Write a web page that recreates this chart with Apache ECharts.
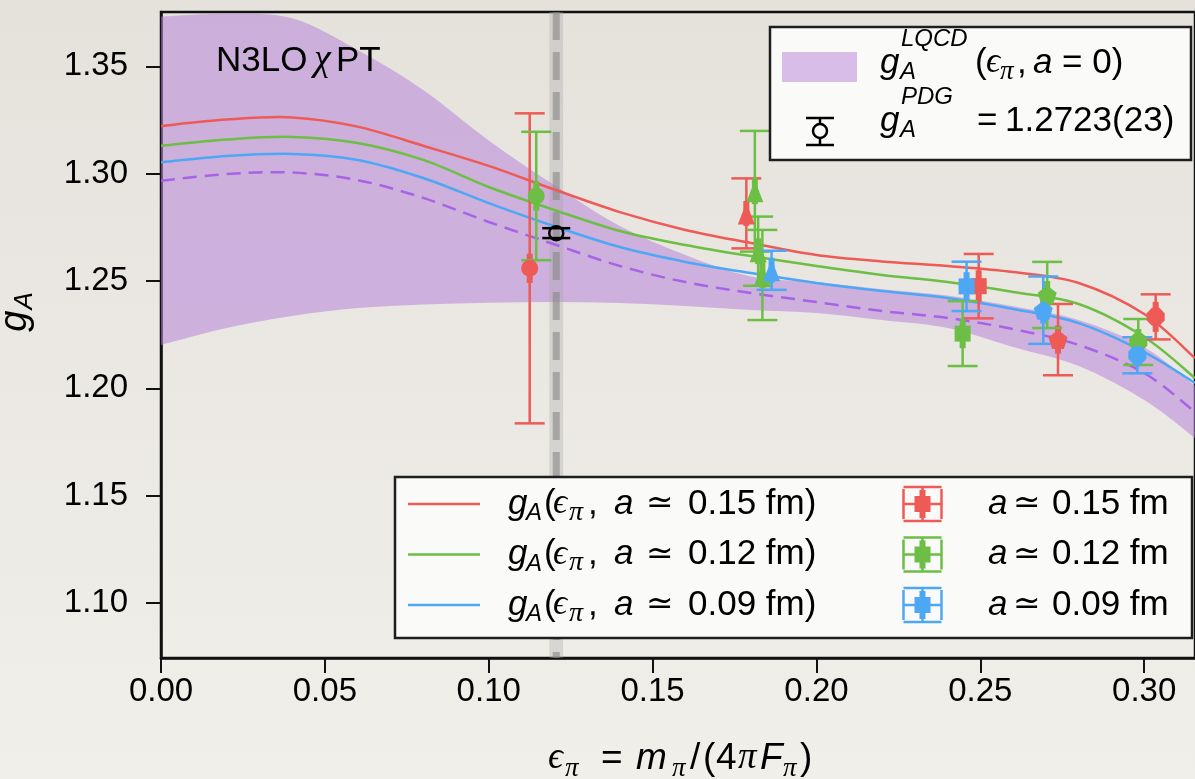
<!DOCTYPE html>
<html><head><meta charset="utf-8">
<script src="https://cdn.jsdelivr.net/npm/echarts@6/dist/echarts.min.js"></script>
<style>html,body{margin:0;padding:0;width:1195px;height:779px;overflow:hidden;background:#ebe8e3}#c{width:1195px;height:779px}</style>
</head><body><div id="c"></div>
<script>
// ---- fit curves ----
const xGrid   = [0,0.02,0.04,0.06,0.08,0.10,0.12,0.14,0.16,0.18,0.20,0.22,0.24,0.26,0.28,0.30,0.3155];
const fit015  = [1.3222,1.3252,1.3262,1.3219,1.3130,1.3036,1.2926,1.2821,1.2738,1.2677,1.2621,1.2591,1.2570,1.2542,1.2491,1.2346,1.2141];
const fit012  = [1.3130,1.3159,1.3171,1.3143,1.3064,1.2938,1.2831,1.2733,1.2668,1.2616,1.2570,1.2528,1.2495,1.2449,1.2393,1.2239,1.2048];
const fit009  = [1.3053,1.3082,1.3092,1.3064,1.2980,1.2863,1.2755,1.2658,1.2589,1.2537,1.2491,1.2453,1.2421,1.2370,1.2304,1.2169,1.2025];
const fitCont = [1.2967,1.2998,1.3005,1.2970,1.2887,1.2775,1.2671,1.2570,1.2495,1.2444,1.2402,1.2360,1.2328,1.2276,1.2202,1.2071,1.1890];
const bandUpper = [1.3732,1.3745,1.3724,1.3576,1.3390,1.3155,1.2947,1.2756,1.2621,1.2521,1.2495,1.2462,1.2432,1.2382,1.2318,1.2192,1.2012];
const bandLower = [1.2202,1.2281,1.2337,1.2374,1.2391,1.2399,1.2402,1.2398,1.2384,1.2365,1.2351,1.2318,1.2281,1.2193,1.2104,1.1946,1.1769];

// ---- lattice data points ----
const eps015   = [0.1125,0.1786,0.2495,0.2737,0.3035];
const gA015    = [1.2559,1.2815,1.2476,1.2227,1.2333];
const err015   = [0.0722,0.0163,0.0150,0.0166,0.0105];
const stat015  = [0.0068,0.0058,0.0074,0.0065,0.0070];
const shape015 = ['circle','triangle','square','pentagon','octagon'];

const eps012   = [0.1145,0.1812,0.1822,0.1835,0.2446,0.2704,0.2982];
const gA012    = [1.2896,1.2918,1.2639,1.2528,1.2255,1.2435,1.2216];
const err012   = [0.0299,0.0281,0.0161,0.0210,0.0151,0.0154,0.0107];
const stat012  = [0.0068,0.0060,0.0060,0.0060,0.0068,0.0065,0.0060];
const shape012 = ['circle','triangle','triangle','triangle','square','pentagon','octagon'];

const eps009   = [0.1863,0.2458,0.2692,0.2979];
const gA009    = [1.2550,1.2475,1.2364,1.2154];
const err009   = [0.0091,0.0115,0.0157,0.0084];
const stat009  = [0.0058,0.0066,0.0062,0.0052];
const shape009 = ['triangle','square','pentagon','octagon'];

// ---- PDG / physical point ----
const pdgEps = [0.1206];
const pdgGA  = [1.2723];
const pdgErr = [0.0023];
const physEps = 0.1206, physHalf = 0.0021;

const yTicks = [1.10,1.15,1.20,1.25,1.30,1.35];

const RED='#ee5a55', GREEN='#6cbe45', BLUE='#4ea7f5', PURPLE='#a862e6';
const SANS='"Liberation Sans", Arial, Helvetica, sans-serif';
const SERIF='"Liberation Serif", "DejaVu Serif", serif';

const SYM = {circle:'circle', triangle:'triangle', square:'rect',
  pentagon:'path://M0,-10L9.51,-3.09L5.88,8.09L-5.88,8.09L-9.51,-3.09Z',
  octagon:'path://M-4.14,-10L4.14,-10L10,-4.14L10,4.14L4.14,10L-4.14,10L-10,4.14L-10,-4.14Z'};
const SIZE = {circle:17, triangle:[17,22], square:16, pentagon:19, octagon:18};

function zip(a,b){return a.map((v,i)=>[v,b[i]]);}

// Catmull-Rom path through screen points
function crPath(pts, cmd){
  let d=cmd+pts[0][0].toFixed(2)+','+pts[0][1].toFixed(2);
  for(let i=0;i<pts.length-1;i++){
    const p0=pts[i-1]||pts[i], p1=pts[i], p2=pts[i+1], p3=pts[i+2]||pts[i+1];
    const c1=[p1[0]+(p2[0]-p0[0])/6, p1[1]+(p2[1]-p0[1])/6];
    const c2=[p2[0]-(p3[0]-p1[0])/6, p2[1]-(p3[1]-p1[1])/6];
    d+=' C'+c1[0].toFixed(2)+','+c1[1].toFixed(2)+' '+c2[0].toFixed(2)+','+c2[1].toFixed(2)+' '+p2[0].toFixed(2)+','+p2[1].toFixed(2);
  }
  return d;
}
function curveSeries(xs, ys, style, z){
  return {type:'custom', data:zip(xs,ys), z:z, clip:true, silent:true,
    encode:{x:0,y:1},
    renderItem:function(params, api){
      if(params.dataIndexInside!==0) return null;
      const n=params.dataInsideLength, pts=[];
      for(let i=0;i<n;i++) pts.push(api.coord([api.value(0,i), api.value(1,i)]));
      return {type:'path', shape:{pathData:crPath(pts,'M')}, style:Object.assign({fill:null},style)};
    }};
}

function errData(e,g,er,st){return e.map((v,i)=>[v,g[i],er[i],st[i]]);}
function renderErr(params, api){
  const x=api.value(0), y=api.value(1), e=api.value(2), s=api.value(3);
  const t=api.coord([x,y+e]), b=api.coord([x,y-e]);
  const st=api.coord([x,y+s]), sb=api.coord([x,y-s]);
  const c=api.visual('color'); const cw=15;
  const ls={stroke:c,lineWidth:2.5};
  return {type:'group',children:[
    {type:'line',shape:{x1:t[0],y1:t[1],x2:b[0],y2:b[1]},style:ls},
    {type:'line',shape:{x1:t[0]-cw,y1:t[1],x2:t[0]+cw,y2:t[1]},style:ls},
    {type:'line',shape:{x1:b[0]-cw,y1:b[1],x2:b[0]+cw,y2:b[1]},style:ls},
    {type:'line',shape:{x1:st[0],y1:st[1],x2:sb[0],y2:sb[1]},style:{stroke:c,lineWidth:6}}
  ]};
}
function markData(e,g,sh){return e.map((v,i)=>({value:[v,g[i]],symbol:SYM[sh[i]],symbolSize:SIZE[sh[i]]}));}

// ---- math text helper ----
const meas=document.createElement('canvas').getContext('2d');
function fam(f){return (f==='si'||f==='sr')?SERIF:(f==='d'?'"DejaVu Sans", sans-serif':SANS);}
function sty(f){return (f==='i'||f==='si')?'italic':'normal';}
function mathLine(x, base, pieces){
  const els=[]; let cx=x;
  for(const p of pieces){
    const s=p.s||35, f=p.f||'r';
    meas.font=sty(f)+' '+s+'px '+fam(f);
    const w=meas.measureText(p.t).width;
    const px = (p.at!==undefined) ? p.at : cx+(p.gap||0);
    els.push({type:'text',x:px,y:base+(p.dy||0)-0.31*s,z:300,zlevel:1,
      style:{text:p.t,fontSize:s,fontFamily:fam(f),fontStyle:sty(f),fill:'#000',verticalAlign:'middle',align:'left'}});
    cx = Math.max(cx, px+w);
  }
  return {els,end:cx};
}

const graphics=[];
const ZL={zlevel:1};
function add(el){graphics.push(Object.assign({},el,ZL));}
// top legend box
add({type:'rect',shape:{x:770,y:27,width:421,height:133},style:{fill:'#fafaf9',stroke:'#1e1e1e',lineWidth:2.5},z:250});
add({type:'rect',shape:{x:782,y:52,width:75,height:30},style:{fill:'rgba(181,127,217,0.5)'},z:260});
graphics.push(...mathLine(880,74,[
  {t:'g',f:'i',at:880},{t:'A',f:'i',s:24,dy:6,at:900},{t:'LQCD',f:'i',s:24,dy:-27,at:901},
  {t:'(',at:975},{t:'\u03f5',f:'si',at:986},{t:'\u03c0',f:'si',s:27,dy:6,at:1000},{t:',',at:1017},{t:'a',f:'i',at:1033},{t:'= 0)',at:1062}]).els);
// PDG icon
add({type:'line',shape:{x1:820,y1:118,x2:820,y2:145},style:{stroke:'#000',lineWidth:2.5},z:260});
add({type:'line',shape:{x1:806,y1:118,x2:834,y2:118},style:{stroke:'#000',lineWidth:2.5},z:260});
add({type:'line',shape:{x1:806,y1:145,x2:834,y2:145},style:{stroke:'#000',lineWidth:2.5},z:260});
add({type:'circle',shape:{cx:820,cy:131,r:7},style:{fill:'#fafaf9',stroke:'#000',lineWidth:2.5},z:261});
graphics.push(...mathLine(880,132,[
  {t:'g',f:'i',at:880},{t:'A',f:'i',s:24,dy:6,at:900},{t:'PDG',f:'i',s:24,dy:-27,at:901},
  {t:'=',at:977},{t:'1.2723(23)',at:1005}]).els);

// bottom legend box
add({type:'rect',shape:{x:395,y:477,width:797,height:161},style:{fill:'#fafaf9',stroke:'#1e1e1e',lineWidth:2.5},z:250});
const legRows=[{c:RED,a:'0.15'},{c:GREEN,a:'0.12'},{c:BLUE,a:'0.09'}];
legRows.forEach((r,i)=>{
  const B=515+50.5*i, cy=B-11;
  add({type:'line',shape:{x1:408,y1:cy,x2:480,y2:cy},style:{stroke:r.c,lineWidth:2.5},z:260});
  graphics.push(...mathLine(508,B,[
    {t:'g',f:'i',at:508},{t:'A',f:'i',s:24,dy:6,at:526},{t:'(',at:544},{t:'\u03f5',f:'si',at:553},{t:'\u03c0',f:'si',s:28,dy:6,at:569},
    {t:',',at:588},{t:'a',f:'i',at:614},{t:'\u2243',f:'d',s:33,at:646},{t:r.a+' fm)',at:688}]).els);
  const ix=922.5;
  const ls={stroke:r.c,lineWidth:2.5};
  add({type:'line',shape:{x1:ix,y1:cy-17,x2:ix,y2:cy+17},style:ls,z:260});
  add({type:'line',shape:{x1:ix-19,y1:cy-17,x2:ix+19,y2:cy-17},style:ls,z:260});
  add({type:'line',shape:{x1:ix-19,y1:cy+17,x2:ix+19,y2:cy+17},style:ls,z:260});
  add({type:'line',shape:{x1:ix-19,y1:cy,x2:ix+19,y2:cy},style:ls,z:260});
  add({type:'line',shape:{x1:ix-19,y1:cy-15,x2:ix-19,y2:cy+15},style:ls,z:260});
  add({type:'line',shape:{x1:ix+19,y1:cy-15,x2:ix+19,y2:cy+15},style:ls,z:260});
  add({type:'line',shape:{x1:ix,y1:cy-14,x2:ix,y2:cy+14},style:{stroke:r.c,lineWidth:6},z:261});
  add({type:'rect',shape:{x:ix-8,y:cy-8,width:16,height:16},style:{fill:r.c},z:262});
  graphics.push(...mathLine(988,B,[{t:'a',f:'i',at:988},{t:'\u2243',f:'d',s:33,at:1013},{t:r.a+' fm',at:1052}]).els);
});

// annotation
graphics.push(...mathLine(216,72,[{t:'N3LO',s:35,at:216},{t:'\u03c7',f:'si',s:38,at:314},{t:'PT',s:35,at:336}]).els);

// x axis title
graphics.push(...mathLine(547,770,[
  {t:'\u03f5',f:'si',s:37,at:548},{t:'\u03c0',f:'si',s:27,dy:7,at:565},{t:'=',s:37,at:601},{t:'m',f:'i',s:37,at:636},{t:'\u03c0',f:'si',s:27,dy:7,at:672},
  {t:'/',s:37,at:690},{t:'(',s:37,at:703},{t:'4',s:37,at:716},{t:'\u03c0',f:'si',s:37,at:738},{t:'F',f:'i',s:37,at:760},{t:'\u03c0',f:'si',s:27,dy:7,at:783},{t:')',s:37,at:800}]).els);

// y axis title (rotated)
{
  const ml=mathLine(0,0,[{t:'g',f:'i',s:38},{t:'A',f:'i',s:26,dy:6,gap:1}]);
  const w=ml.end;
  ml.els.forEach(e=>{e.x-=w/2;});
  graphics.push({type:'group',x:27,y:312,rotation:Math.PI/2,children:ml.els,z:300,zlevel:1});
}

const option={
  animation:false,
  backgroundColor:{type:'linear',x:0,y:0,x2:0,y2:1,colorStops:[{offset:0,color:'#e5e2dc'},{offset:1,color:'#f1efea'}]},
  grid:{left:161,right:0,top:12,bottom:121,show:true,borderColor:'#111',borderWidth:2.5,backgroundColor:'transparent'},
  xAxis:{type:'value',min:0,max:0.3155,interval:0.05,
    axisLine:{show:true,lineStyle:{color:'#111',width:2.5}},
    axisTick:{show:true,length:15,lineStyle:{color:'#111',width:2}},
    axisLabel:{fontSize:33,fontFamily:SANS,color:'#000',margin:17,formatter:v=>v.toFixed(2)},
    splitLine:{show:false}},
  yAxis:{type:'value',min:1.0744,max:1.3753,
    axisLine:{show:true,lineStyle:{color:'#111',width:2.5}},
    axisTick:{show:true,length:15,lineStyle:{color:'#111',width:2},customValues:yTicks},
    axisLabel:{fontSize:33,fontFamily:SANS,color:'#000',margin:33,customValues:yTicks,formatter:v=>v.toFixed(2)},
    splitLine:{show:false}},
  graphic:graphics,
  series:[
    {type:'custom',data:xGrid.map((x,i)=>[x,bandLower[i],bandUpper[i]]),z:1,clip:true,silent:true,
      encode:{x:0,y:[1,2]},
      renderItem:function(params,api){
        if(params.dataIndexInside!==0) return null;
        const n=params.dataInsideLength, up=[], lo=[];
        for(let i=0;i<n;i++){
          up.push(api.coord([api.value(0,i),api.value(2,i)]));
          lo.push(api.coord([api.value(0,i),api.value(1,i)]));
        }
        const d=crPath(up,'M')+' '+crPath(lo.reverse(),'L')+' Z';
        return {type:'path',shape:{pathData:d},style:{fill:'rgba(181,127,217,0.52)',stroke:null}};
      }},
    {type:'custom',data:[[physEps]],silent:true,z:2,clip:true,
      renderItem:function(params,api){
        const cs=params.coordSys;
        const l=api.coord([physEps-physHalf,1.2])[0], r=api.coord([physEps+physHalf,1.2])[0], m=api.coord([physEps,1.2])[0];
        return {type:'group',children:[
          {type:'rect',shape:{x:l,y:cs.y,width:r-l,height:cs.height},style:{fill:'rgba(165,165,165,0.32)'}},
          {type:'line',shape:{x1:m,y1:cs.y,x2:m,y2:cs.y+cs.height},style:{stroke:'rgba(135,135,135,0.6)',lineWidth:7,lineDash:[28,12]}}
        ]};
      }},
    curveSeries(xGrid,fitCont,{stroke:PURPLE,lineWidth:2.5,lineDash:[14,8]},3),
    curveSeries(xGrid,fit009,{stroke:BLUE,lineWidth:2.5},3),
    curveSeries(xGrid,fit012,{stroke:GREEN,lineWidth:2.5},3),
    curveSeries(xGrid,fit015,{stroke:RED,lineWidth:2.5},3),
    {type:'custom',data:errData(eps015,gA015,err015,stat015),itemStyle:{color:RED},renderItem:renderErr,z:4},
    {type:'custom',data:errData(eps012,gA012,err012,stat012),itemStyle:{color:GREEN},renderItem:renderErr,z:4},
    {type:'custom',data:errData(eps009,gA009,err009,stat009),itemStyle:{color:BLUE},renderItem:renderErr,z:4},
    {type:'scatter',data:markData(eps015,gA015,shape015),itemStyle:{color:RED,opacity:1},z:5},
    {type:'scatter',data:markData(eps012,gA012,shape012),itemStyle:{color:GREEN,opacity:1},z:5},
    {type:'scatter',data:markData(eps009,gA009,shape009),itemStyle:{color:BLUE,opacity:1},z:5},
    {type:'custom',data:pdgEps.map((v,i)=>[v,pdgGA[i],pdgErr[i]]),z:6,
      renderItem:function(params,api){
        const x=api.value(0),y=api.value(1),e=api.value(2);
        const c=api.coord([x,y]), t=api.coord([x,y+e]), b=api.coord([x,y-e]);
        const ls={stroke:'#000',lineWidth:2.5};
        return {type:'group',children:[
          {type:'line',shape:{x1:t[0]-14,y1:t[1],x2:t[0]+14,y2:t[1]},style:ls},
          {type:'line',shape:{x1:b[0]-14,y1:b[1],x2:b[0]+14,y2:b[1]},style:ls},
          {type:'circle',shape:{cx:c[0],cy:c[1],r:7},style:{fill:'none',stroke:'#000',lineWidth:2.5}}
        ]};
      }}
  ]
};
const chart=echarts.init(document.getElementById('c'),null,{renderer:'canvas',width:1195,height:779});
chart.setOption(option);
</script>
</body></html>
